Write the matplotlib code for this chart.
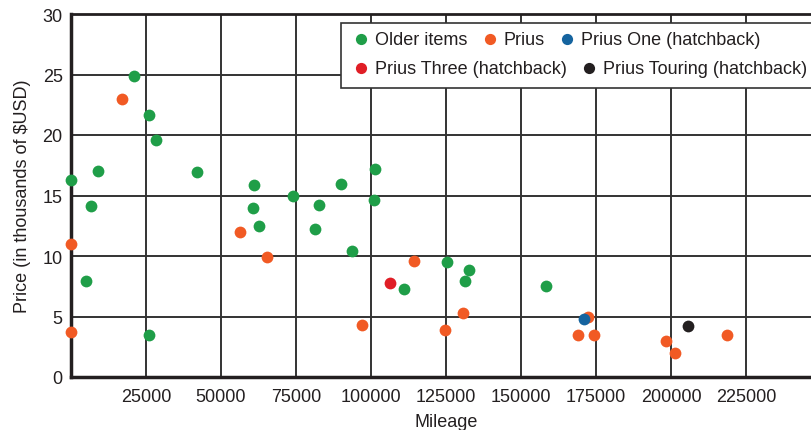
import matplotlib
matplotlib.use("Agg")
import matplotlib.pyplot as plt
from matplotlib.patches import Rectangle

plt.rcParams['font.family'] = ['Liberation Sans', 'DejaVu Sans']

# --- data (mileage, price in thousands of USD) ---
older_x = [0, 21100, 26000, 28200, 9100, 6700, 4900, 26100, 41900, 61100,
           60700, 62700, 74100, 81400, 82700, 90000, 101300, 101100, 93600,
           111000, 125200, 132800, 131300, 158200]
older_y = [16.3, 24.9, 21.65, 19.55, 17.05, 14.1, 7.96, 3.47, 16.94, 15.9,
           13.97, 12.48, 14.96, 12.26, 14.24, 15.95, 17.16, 14.63, 10.41,
           7.27, 9.48, 8.81, 7.93, 7.49]

prius_x = [17000, 0, 100, 56400, 65400, 97100, 114400, 124600, 130600,
           172200, 169000, 174200, 198300, 201300, 218700]
prius_y = [22.95, 10.96, 3.75, 12.0, 9.94, 4.32, 9.62, 3.88, 5.29,
           4.93, 3.5, 3.44, 2.98, 1.98, 3.5]

one_x = [171100]
one_y = [4.77]

three_x = [106200]
three_y = [7.8]

touring_x = [205700]
touring_y = [4.21]

x_ticks = [25000, 50000, 75000, 100000, 125000, 150000, 175000, 200000, 225000]
y_ticks = [0, 5, 10, 15, 20, 25, 30]

W, H = 812, 431
fig = plt.figure(figsize=(W / 100, H / 100), dpi=100)
ax = fig.add_axes([71 / W, 53 / H, 750 / W, 363 / H])

dark = '#231f20'
ms = 72
common = dict(s=ms, lw=0, clip_on=False)
ax.scatter(older_x, older_y, color='#1f9e48', zorder=3, label='Older items', **common)
ax.scatter(prius_x, prius_y, color='#f15a24', zorder=3, label='Prius', **common)
ax.scatter(one_x, one_y, color='#15649f', zorder=4, label='Prius One (hatchback)', **common)
ax.scatter(three_x, three_y, color='#e01e26', zorder=3, label='Prius Three (hatchback)', **common)
ax.scatter(touring_x, touring_y, color=dark, zorder=3, label='Prius Touring (hatchback)', **common)

ax.set_xlim(0, 250000)
ax.set_ylim(0, 30)
ax.set_xticks(x_ticks)
ax.set_yticks(y_ticks)
ax.tick_params(length=0, labelsize=13, labelcolor=dark)
ax.tick_params(axis='x', pad=8)
ax.tick_params(axis='y', pad=6)
ax.grid(True, color='#333333', lw=1.4)
ax.set_axisbelow(True)

for side in ['left', 'bottom']:
    ax.spines[side].set_linewidth(2.5)
    ax.spines[side].set_color(dark)
ax.spines['top'].set_linewidth(2)
ax.spines['top'].set_color(dark)
ax.spines['right'].set_visible(False)

ax.set_xlabel('Mileage', fontsize=13, color=dark, labelpad=6)
ax.set_ylabel('Price (in thousands of $USD)', fontsize=13, color=dark, labelpad=8)

# legend laid out in two rows inside one frame
handles, labels = ax.get_legend_handles_labels()
frame = Rectangle((341 / W, 1 - 89 / H), 480 / W, 65 / H, transform=fig.transFigure,
                  facecolor='white', edgecolor='#333333', lw=1.2, zorder=6, clip_on=False)
ax.add_patch(frame)

kw = dict(frameon=False, fontsize=13, handlelength=0.6, handletextpad=0.45,
          columnspacing=0.95, borderpad=0, borderaxespad=0, loc='center left',
          bbox_transform=fig.transFigure, labelcolor=dark, markerscale=0.95)
leg1 = ax.legend(handles[:3], labels[:3], ncol=3, bbox_to_anchor=(356 / W, 1 - 40.7 / H), **kw)
leg1.set_zorder(7)
ax.add_artist(leg1)
leg2 = ax.legend(handles[3:], labels[3:], ncol=2, bbox_to_anchor=(356 / W, 1 - 69 / H), **kw)
leg2.set_zorder(7)

fig.savefig('out.png', dpi=100)
